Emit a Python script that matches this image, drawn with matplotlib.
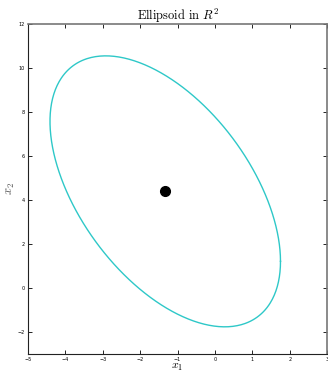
import numpy as np
import matplotlib
matplotlib.use("Agg")
import matplotlib.pyplot as plt

plt.rcParams['mathtext.fontset'] = 'cm'

# Ellipse parameters: center and shape matrix
center = [-1.33, 4.39]
shape_matrix = [[9.5, -9.8], [-9.8, 37.9]]
x_ticks = [-5, -4, -3, -2, -1, 0, 1, 2, 3]
y_ticks = [-2, 0, 2, 4, 6, 8, 10, 12]

P = np.array(shape_matrix)
L = np.linalg.cholesky(P)
t = np.linspace(0, 2 * np.pi, 400)
pts = np.array(center)[:, None] + L @ np.vstack([np.cos(t), np.sin(t)])

fig = plt.figure(figsize=(3.28, 3.73), dpi=100)
ax = fig.add_axes([0.0854, 0.051, 0.912, 0.885])
ax.plot(pts[0], pts[1], color='#2ec8c8', lw=1.0)
ax.plot(center[0], center[1], 'o', color='black', markersize=7)
ax.set_xlim(-5, 3)
ax.set_ylim(-3, 12)
ax.set_xticks(x_ticks)
ax.set_yticks(y_ticks)
ax.tick_params(direction='in', length=3, width=0.6, labelsize=3.5, top=True, right=True, pad=2)
for s in ['left', 'bottom']:
    ax.spines[s].set_linewidth(0.8)
    ax.spines[s].set_color('#222222')
for s in ['top', 'right']:
    ax.spines[s].set_linewidth(1.2)
    ax.spines[s].set_color('#777777')
ax.set_title(r'$\mathrm{Ellipsoid\ in}\ R^2$', fontsize=9, pad=3)
ax.set_xlabel(r'$x_1$', fontsize=8.5, labelpad=-1)
ax.set_ylabel(r'$x_2$', fontsize=9, labelpad=1, color='#555555')
fig.savefig('out.png', dpi=100)
